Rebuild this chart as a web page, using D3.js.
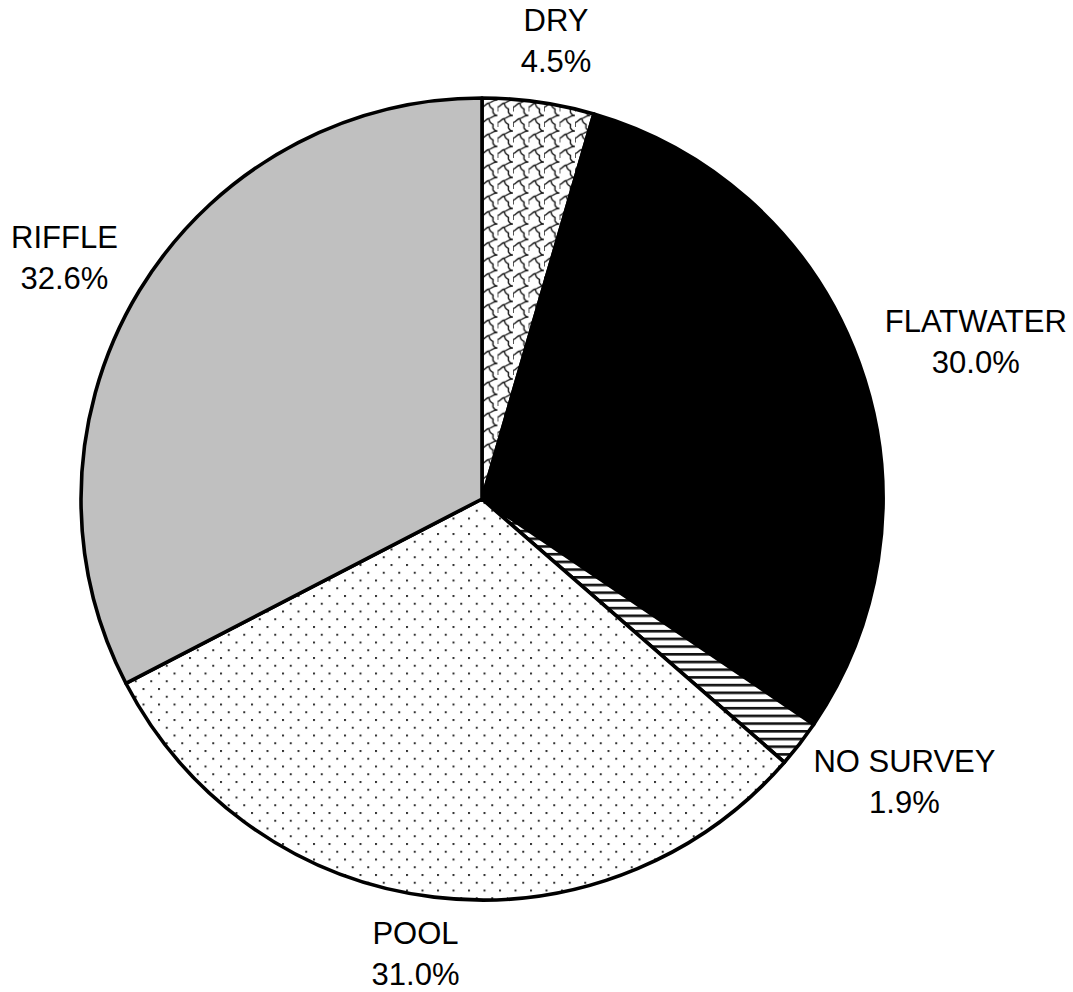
<!DOCTYPE html>
<html>
<head>
<meta charset="utf-8">
<script src="https://cdn.jsdelivr.net/npm/d3@7"></script>
<style>
  html, body { margin: 0; padding: 0; background: #fff; }
  svg { display: block; }
</style>
</head>
<body>
<svg id="chart" width="1073" height="992"></svg>
<script>
const categories = ["DRY", "FLATWATER", "NO SURVEY", "POOL", "RIFFLE"];
const values = [4.5, 30.0, 1.9, 31.0, 32.6];
const percentLabels = ["4.5%", "30.0%", "1.9%", "31.0%", "32.6%"];
const fills = ["url(#pDry)", "#000000", "url(#pStripe)", "url(#pDots)", "#c0c0c0"];

const W = 1073, H = 992;
const cx = 482, cy = 499, R = 401;
const svg = d3.select("#chart");
const defs = svg.append("defs");

// Dots pattern (POOL)
const pd = defs.append("pattern").attr("id", "pDots").attr("patternUnits", "userSpaceOnUse")
  .attr("width", 15.5).attr("height", 15.5).attr("x", cx).attr("y", cy);
pd.append("rect").attr("width", 15.5).attr("height", 15.5).attr("fill", "#fff");
pd.append("rect").attr("x", 0).attr("y", 0).attr("width", 2).attr("height", 2).attr("fill", "#333");
pd.append("rect").attr("x", 7.75).attr("y", 7.75).attr("width", 2).attr("height", 2).attr("fill", "#333");

// Horizontal stripes (NO SURVEY)
const ps = defs.append("pattern").attr("id", "pStripe").attr("patternUnits", "userSpaceOnUse")
  .attr("width", 8).attr("height", 7.7).attr("y", 0);
ps.append("rect").attr("width", 8).attr("height", 7.7).attr("fill", "#fff");
ps.append("rect").attr("y", 0).attr("width", 8).attr("height", 2.6).attr("fill", "#111");

// Scale / shingle pattern (DRY)
const pz = defs.append("pattern").attr("id", "pDry").attr("patternUnits", "userSpaceOnUse")
  .attr("width", 15.5).attr("height", 15.5);
pz.append("rect").attr("width", 15.5).attr("height", 15.5).attr("fill", "#fff");
pz.append("path")
  .attr("d", "M0,11 C3,11 4,7 7,7 C9,7 10,4 15.5,4 M7,7 C7,10 9,12 11,13 L11,15.5 M0,11 L0,15.5 M11,0 L11,1 C12,3 14,4 15.5,4")
  .attr("fill", "none").attr("stroke", "#111").attr("stroke-width", 1.4);

const pie = d3.pie().sort(null).value(d => d)
  .startAngle(0).endAngle(2 * Math.PI);
const arcs = pie(values);
const arcGen = d3.arc().innerRadius(0).outerRadius(R);

const g = svg.append("g").attr("transform", `translate(${cx},${cy})`);
g.selectAll("path.slice").data(arcs).enter().append("path")
  .attr("class", "slice")
  .attr("d", arcGen)
  .attr("fill", (d, i) => fills[i])
  .attr("stroke", "#000")
  .attr("stroke-width", 3.6)
  .attr("stroke-linejoin", "round");

// Labels
const fontSize = 31, lineGap = 41, gap = 30;
const lg = g.append("g").attr("font-family", "'Liberation Sans', Arial, sans-serif")
  .attr("font-size", fontSize).attr("fill", "#000").attr("text-anchor", "middle");

arcs.forEach((d, i) => {
  const a = (d.startAngle + d.endAngle) / 2;
  const s = Math.sin(a), c = -Math.cos(a);
  const t = lg.append("text");
  t.append("tspan").attr("x", 0).attr("y", 0).text(categories[i]);
  t.append("tspan").attr("x", 0).attr("y", lineGap).text(percentLabels[i]);
  const bb = t.node().getBBox();
  const w = bb.width, h = 64;
  const px = (R + gap) * s, py = (R + gap) * c;
  const ox = px + Math.sign(s) * Math.sqrt(Math.abs(s)) * w / 2;
  let oy = py + c * h / 2;
  // keep the block inside the picture
  const bottomLimit = H - cy - 6;
  if (oy + h / 2 > bottomLimit) oy = bottomLimit - h / 2;
  t.attr("transform", `translate(${ox},${oy - 10})`);
});
</script>
</body>
</html>
